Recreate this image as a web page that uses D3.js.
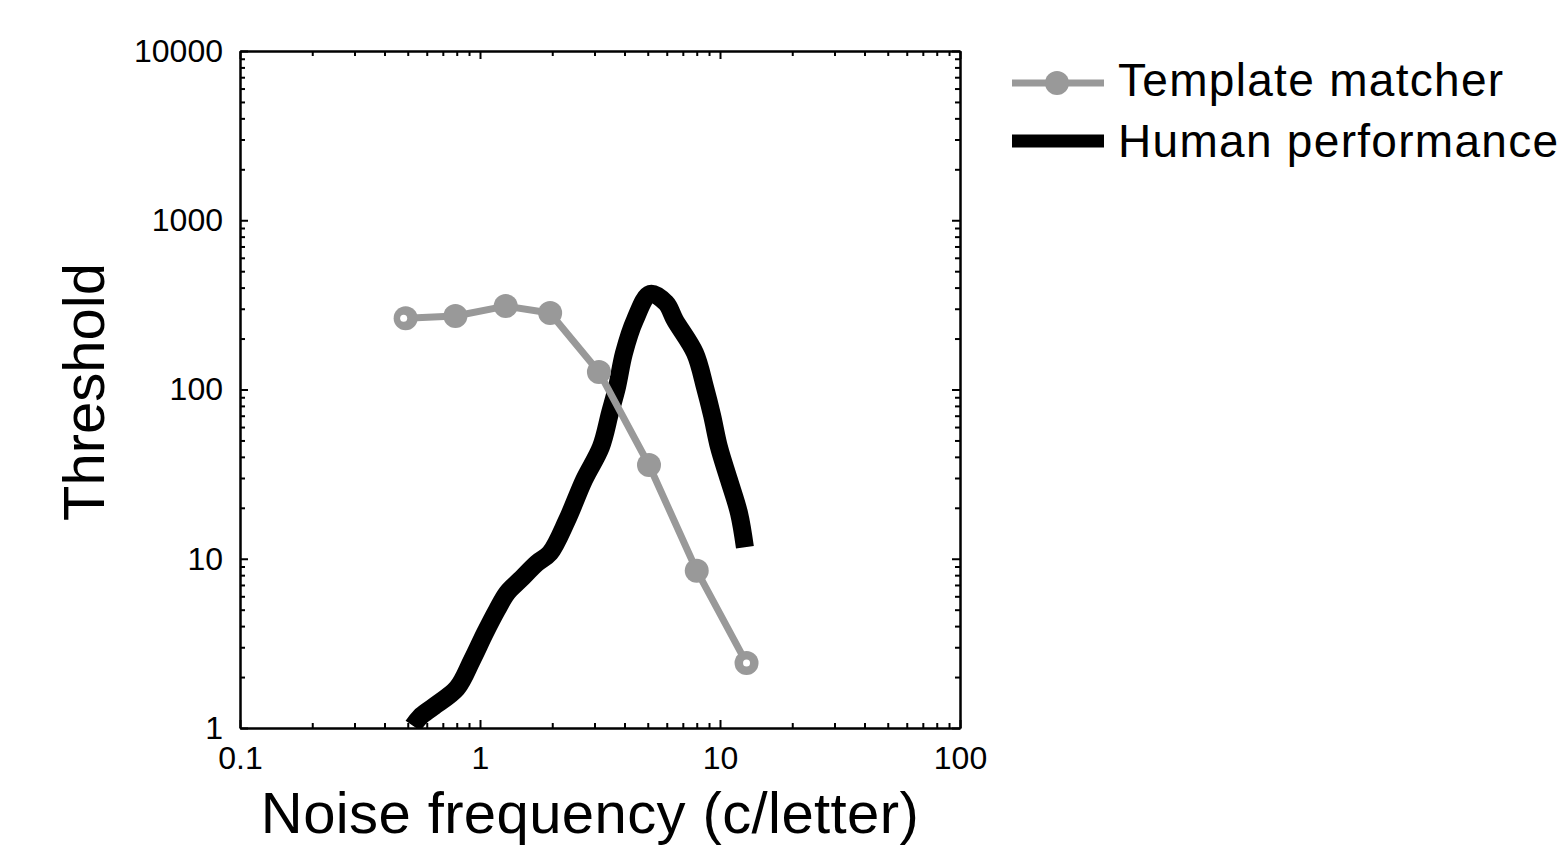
<!DOCTYPE html>
<html>
<head>
<meta charset="utf-8">
<script src="https://cdn.jsdelivr.net/npm/d3@7"></script>
<style>
  body { margin: 0; background: #fff; }
  text { font-family: "Liberation Sans", Arial, sans-serif; }
</style>
</head>
<body>
<svg id="chart" width="1560" height="848"></svg>
<script>
// template matcher points
const templateX = [0.49, 0.79, 1.28, 1.96, 3.13, 5.06, 8.0, 12.9];
const templateY = [264, 272, 311, 283, 127, 35.8, 8.5, 2.42];

// human performance curve
const humanX = [0.526, 0.562, 0.637, 0.802, 0.926, 1.049, 1.177, 1.296, 1.468, 1.729, 1.957,
                2.304, 2.713, 3.19, 3.48, 3.72, 3.98, 4.42, 5.11, 5.96, 6.49, 7.87, 8.66,
                9.26, 9.9, 10.9, 12.0, 12.7];
const humanY = [1.03, 1.16, 1.33, 1.72, 2.52, 3.64, 4.98, 6.28, 7.49, 9.44, 10.8,
                16.9, 29.2, 45.7, 72.6, 103, 164, 257, 367, 324, 257, 164, 103,
                70.7, 45.7, 29.2, 18.6, 11.7];

const xMajor = [0.1, 1, 10, 100];
const xLabels = ["0.1", "1", "10", "100"];
const yMajor = [1, 10, 100, 1000, 10000];
const yLabels = ["1", "10", "100", "1000", "10000"];

const svg = d3.select("#chart");
const plotLeft = 240, plotRight = 960, plotTop = 51, plotBottom = 728;

const x = d3.scaleLog().domain([0.1, 100]).range([plotLeft, plotRight]);
const y = d3.scaleLog().domain([1, 10000]).range([plotBottom, plotTop]);

// minor ticks at 2..9 of every decade
const minorOf = (lo, hi) => {
    const out = [];
    for (let d = lo; d < hi; d *= 10) {
        for (let k = 2; k <= 9; k++) out.push(d * k);
    }
    return out;
};
const xMinor = minorOf(0.1, 100);
const yMinor = minorOf(1, 10000);

function styleAxis(g) {
    g.select(".domain").attr("stroke", "#000").attr("stroke-width", 2);
    g.selectAll(".tick line").attr("stroke", "#000").attr("stroke-width", 2);
    g.selectAll(".tick text").attr("fill", "#000").style("font-size", "32px")
        .style("font-family", "'Liberation Sans', Arial, sans-serif");
}

// bottom
svg.append("g").attr("transform", `translate(0,${plotBottom})`)
    .call(d3.axisBottom(x).tickValues(xMinor).tickSize(-5).tickSizeOuter(0).tickFormat(""))
    .call(styleAxis);
svg.append("g").attr("transform", `translate(0,${plotBottom})`)
    .call(d3.axisBottom(x).tickValues(xMajor).tickSize(-8).tickSizeOuter(0).tickPadding(18)
        .tickFormat((d, i) => xLabels[i]))
    .call(styleAxis);
// top
svg.append("g").attr("transform", `translate(0,${plotTop})`)
    .call(d3.axisTop(x).tickValues(xMinor).tickSize(-5).tickSizeOuter(0).tickFormat(""))
    .call(styleAxis);
svg.append("g").attr("transform", `translate(0,${plotTop})`)
    .call(d3.axisTop(x).tickValues(xMajor).tickSize(-8).tickSizeOuter(0).tickFormat(""))
    .call(styleAxis);
// left
svg.append("g").attr("transform", `translate(${plotLeft},0)`)
    .call(d3.axisLeft(y).tickValues(yMinor).tickSize(-5).tickSizeOuter(0).tickFormat(""))
    .call(styleAxis);
svg.append("g").attr("transform", `translate(${plotLeft},0)`)
    .call(d3.axisLeft(y).tickValues(yMajor).tickSize(-8).tickSizeOuter(0).tickPadding(17)
        .tickFormat((d, i) => yLabels[i]))
    .call(styleAxis);
// right
svg.append("g").attr("transform", `translate(${plotRight},0)`)
    .call(d3.axisRight(y).tickValues(yMinor).tickSize(-5).tickSizeOuter(0).tickFormat(""))
    .call(styleAxis);
svg.append("g").attr("transform", `translate(${plotRight},0)`)
    .call(d3.axisRight(y).tickValues(yMajor).tickSize(-8).tickSizeOuter(0).tickFormat(""))
    .call(styleAxis);

// clip to the plot box
svg.append("clipPath").attr("id", "plotClip")
    .append("rect").attr("x", plotLeft).attr("y", plotTop)
    .attr("width", plotRight - plotLeft).attr("height", plotBottom - plotTop);

const plot = svg.append("g").attr("clip-path", "url(#plotClip)");

const line = d3.line().x(d => x(d[0])).y(d => y(d[1]));
const smooth = d3.line().x(d => x(d[0])).y(d => y(d[1])).curve(d3.curveCatmullRom.alpha(0.5));

// human performance (thick black)
const human = humanX.map((v, i) => [v, humanY[i]]);
plot.append("path")
    .datum(human)
    .attr("d", smooth)
    .attr("fill", "none")
    .attr("stroke", "#000")
    .attr("stroke-width", 18)
    .attr("stroke-linejoin", "round")
    .attr("stroke-linecap", "butt");

// template matcher (grey line + dots)
const tmpl = templateX.map((v, i) => [v, templateY[i]]);
const grey = "#999999";
plot.append("path")
    .datum(tmpl)
    .attr("d", line)
    .attr("fill", "none")
    .attr("stroke", grey)
    .attr("stroke-width", 7)
    .attr("stroke-linejoin", "round");

plot.selectAll(".dot")
    .data(tmpl)
    .enter().append("circle")
    .attr("class", "dot")
    .attr("cx", d => x(d[0]))
    .attr("cy", d => y(d[1]))
    .attr("r", 12)
    .attr("fill", grey);

// the end markers have a small hole in them
const ends = [tmpl[0], tmpl[tmpl.length - 1]];
plot.selectAll(".hole")
    .data(ends)
    .enter().append("circle")
    .attr("class", "hole")
    .attr("cx", (d, i) => x(d[0]) + (i === 0 ? -2 : 0))
    .attr("cy", d => y(d[1]))
    .attr("r", 3.5)
    .attr("fill", "#fff");

// axis titles
svg.append("text")
    .attr("transform", "translate(104,392) rotate(-90)")
    .attr("text-anchor", "middle")
    .style("font-size", "58px")
    .text("Threshold");

svg.append("text")
    .attr("x", 590)
    .attr("y", 833)
    .attr("text-anchor", "middle")
    .style("font-size", "58px")
    .style("letter-spacing", "0.4px")
    .text("Noise frequency (c/letter)");

// legend
const legend = svg.append("g");
legend.append("line")
    .attr("x1", 1012).attr("x2", 1104).attr("y1", 83).attr("y2", 83)
    .attr("stroke", grey).attr("stroke-width", 7);
legend.append("circle")
    .attr("cx", 1057).attr("cy", 83).attr("r", 12).attr("fill", grey);
legend.append("text")
    .attr("x", 1118).attr("y", 96)
    .style("font-size", "46px")
    .style("letter-spacing", "1.3px")
    .text("Template matcher");

legend.append("line")
    .attr("x1", 1012).attr("x2", 1104).attr("y1", 141).attr("y2", 141)
    .attr("stroke", "#000").attr("stroke-width", 13);
legend.append("text")
    .attr("x", 1118).attr("y", 157)
    .style("font-size", "46px")
    .style("letter-spacing", "1.3px")
    .text("Human performance");
</script>
</body>
</html>
